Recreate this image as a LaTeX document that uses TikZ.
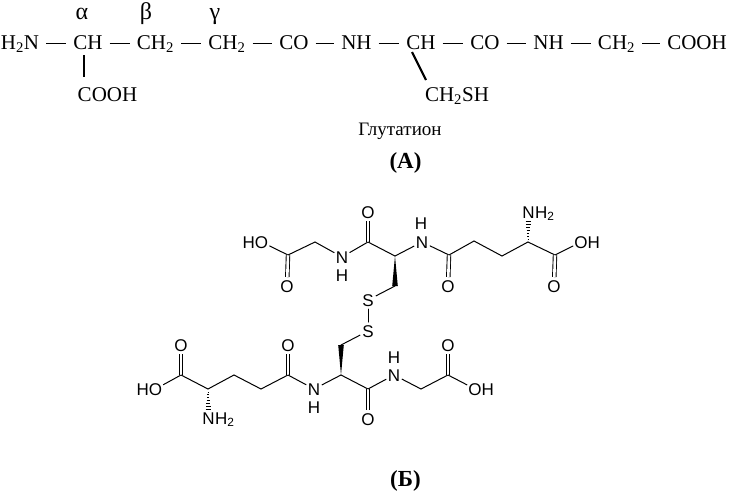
\documentclass[tikz,border=0pt]{standalone}
\usepackage{fontspec}
\setmainfont{Liberation Serif}
\newfontfamily\molfont{Liberation Sans}
\usetikzlibrary{calc}
\tikzset{
  grp/.style={font=\fontsize{21}{24}\selectfont,text height=14pt,text depth=3pt,inner xsep=7pt,inner ysep=3pt,outer sep=0pt},
  greek/.style={font=\fontsize{24}{27}\selectfont,inner sep=0pt},
  bondA/.style={line width=1.1pt},
  stem/.style={line width=2.2pt},
  atom/.style={circle,font=\molfont\fontsize{17}{20}\selectfont,text height=12pt,text depth=0pt,inner sep=0pt,minimum size=18pt,outer sep=0pt},
  extra/.style={font=\molfont\fontsize{17}{20}\selectfont,inner sep=0pt},
  bond/.style={line width=1pt,line cap=round},
  dbl/.style={line width=0.9pt,double,double distance=2.6pt}
}
\begin{document}
\begin{tikzpicture}[x=1pt,y=-1pt]
  \useasboundingbox (0,0) rectangle (729,491);

  % (A)
  \node[grp] (nh2) at (20,43.5) {H\textsubscript{2}N};
  \node[grp] (cha) at (88,43.5) {CH};
  \node[grp] (chb) at (155.5,43.5) {CH\textsubscript{2}};
  \node[grp] (chc) at (227,43.5) {CH\textsubscript{2}};
  \node[grp] (coa) at (294,43.5) {CO};
  \node[grp] (nha) at (356.5,43.5) {NH};
  \node[grp] (chd) at (421,43.5) {CH};
  \node[grp] (cob) at (485,43.5) {CO};
  \node[grp] (nhb) at (548.5,43.5) {NH};
  \node[grp] (che) at (616.5,43.5) {CH\textsubscript{2}};
  \node[grp] (cooha) at (697,43.5) {COOH};
  \node[grp] (coohb) at (107.5,95.5) {COOH};
  \node[grp] (chsh) at (457,95.5) {CH\textsubscript{2}SH};

  \node[greek,anchor=base] (alpha) at (82,19) {α};
  \node[greek,anchor=base] (beta) at (146,19) {β};
  \node[greek,anchor=base] (gamma) at (215,19) {γ};
  \node[inner sep=0pt,anchor=base,font=\fontsize{19}{22}\selectfont] (name) at (400,135) {Глутатион};
  \node[inner sep=0pt,anchor=base,font=\bfseries\fontsize{23}{26}\selectfont] (capa) at (405.5,168) {(A)};
  \node[inner sep=0pt,anchor=base,font=\bfseries\fontsize{23}{26}\selectfont] (capb) at (405.5,486) {(Б)};

  \draw[bondA] (nh2) -- (cha);
  \draw[bondA] (cha) -- (chb);
  \draw[bondA] (chb) -- (chc);
  \draw[bondA] (chc) -- (coa);
  \draw[bondA] (coa) -- (nha);
  \draw[bondA] (nha) -- (chd);
  \draw[bondA] (chd) -- (cob);
  \draw[bondA] (cob) -- (nhb);
  \draw[bondA] (nhb) -- (che);
  \draw[bondA] (che) -- (cooha);
  \draw[stem] ([xshift=-4pt]cha.south) -- ([xshift=-23.5pt,yshift=7pt]coohb.north);
  \draw[stem] ([xshift=-9pt,yshift=3pt]chd.south) -- ([xshift=-31pt,yshift=4pt]chsh.north);

  % (B), upper molecule
  \coordinate (c1) at (288,255);
  \coordinate (c2) at (315,242);
  \coordinate (c3) at (368,242);
  \coordinate (c4) at (395,256);
  \coordinate (c5) at (395,286);
  \coordinate (c6) at (449,255);
  \coordinate (c7) at (474,241);
  \coordinate (c8) at (502,256);
  \coordinate (c9) at (528,242);
  \coordinate (c10) at (555,255);

  \node[atom] (oa) at (261.5,242) {O};
  \node[extra,anchor=base east] (ha) at ([xshift=-6.5pt]oa.base) {H};
  \node[atom] (ob) at (287,286) {O};
  \node[atom] (na) at (342,257) {N};
  \node[atom] (hna) at (342,275) {H};
  \node[atom] (oc) at (368,212) {O};
  \node[atom] (nb) at (422,242) {N};
  \node[atom] (hnb) at (421,223) {H};
  \node[atom] (od) at (448,286) {O};
  \node[atom] (nc) at (528.5,212) {N};
  \node[extra,anchor=base west] (hnc) at ([xshift=6.5pt]nc.base) {H\textsubscript{2}};
  \node[atom] (oe) at (554,286) {O};
  \node[atom] (of) at (581,242) {O};
  \node[extra,anchor=base west] (hf) at ([xshift=6.5pt]of.base) {H};
  \node[atom] (sa) at (368,300) {S};

  \draw[bond] (oa) -- (c1);
  \draw[dbl] (c1) -- (ob);
  \draw[bond] (c1) -- (c2);
  \draw[bond] (c2) -- (na);
  \draw[bond] (na) -- (c3);
  \draw[dbl] (c3) -- (oc);
  \draw[bond] (c3) -- (c4);
  \draw[bond] (c4) -- (nb);
  \fill (c4) -- ([xshift=-2.8pt]c5) -- ([xshift=2.8pt]c5) -- cycle;
  \draw[bond] (c5) -- (sa);
  \draw[bond] (nb) -- (c6);
  \draw[dbl] (c6) -- (od);
  \draw[bond] (c6) -- (c7);
  \draw[bond] (c7) -- (c8);
  \draw[bond] (c8) -- (c9);
  \draw[bond] (c9) -- (c10);
  \draw[dbl] (c10) -- (oe);
  \draw[bond] (c10) -- (of);

  % (B), lower molecule
  \coordinate (d1) at (181,375);
  \coordinate (d2) at (208,389);
  \coordinate (d3) at (234,375);
  \coordinate (d4) at (261,389);
  \coordinate (d5) at (288,375);
  \coordinate (d6) at (341,375);
  \coordinate (d7) at (341,345);
  \coordinate (d8) at (368,389);
  \coordinate (d9) at (421,389);
  \coordinate (d10) at (448,375);

  \node[atom] (og) at (155.5,389) {O};
  \node[extra,anchor=base east] (hg) at ([xshift=-6.5pt]og.base) {H};
  \node[atom] (oh) at (181,345) {O};
  \node[atom] (nd) at (208.5,418) {N};
  \node[extra,anchor=base west] (hnd) at ([xshift=6.5pt]nd.base) {H\textsubscript{2}};
  \node[atom] (oi) at (288,345) {O};
  \node[atom] (ne) at (314,389) {N};
  \node[atom] (hne) at (314,407) {H};
  \node[atom] (sb) at (368,331) {S};
  \node[atom] (oj) at (368,419) {O};
  \node[atom] (nf) at (394,375) {N};
  \node[atom] (hnf) at (394,357) {H};
  \node[atom] (ok) at (448,345) {O};
  \node[atom] (ol) at (475,389) {O};
  \node[extra,anchor=base west] (hl) at ([xshift=6.5pt]ol.base) {H};

  \draw[bond] (og) -- (d1);
  \draw[dbl] (d1) -- (oh);
  \draw[bond] (d1) -- (d2);
  \draw[bond] (d2) -- (d3);
  \draw[bond] (d3) -- (d4);
  \draw[bond] (d4) -- (d5);
  \draw[dbl] (d5) -- (oi);
  \draw[bond] (d5) -- (ne);
  \draw[bond] (ne) -- (d6);
  \fill (d6) -- ([xshift=-2.8pt]d7) -- ([xshift=2.8pt]d7) -- cycle;
  \draw[bond] (d7) -- (sb);
  \draw[bond] (d6) -- (d8);
  \draw[dbl] (d8) -- (oj);
  \draw[bond] (d8) -- (nf);
  \draw[bond] (nf) -- (d9);
  \draw[bond] (d9) -- (d10);
  \draw[dbl] (d10) -- (ok);
  \draw[bond] (d10) -- (ol);

  \draw[bond] (sa) -- (sb);

  % hashed bonds
  \foreach \a/\b in {c9/nc,d2/nd}
    \foreach \t in {0.1,0.2,...,0.7}
      \draw[line width=0.7pt] ($(\a)!\t!(\b)+(-\t*4,0)$) -- ($(\a)!\t!(\b)+(\t*4,0)$);
\end{tikzpicture}
\end{document}
